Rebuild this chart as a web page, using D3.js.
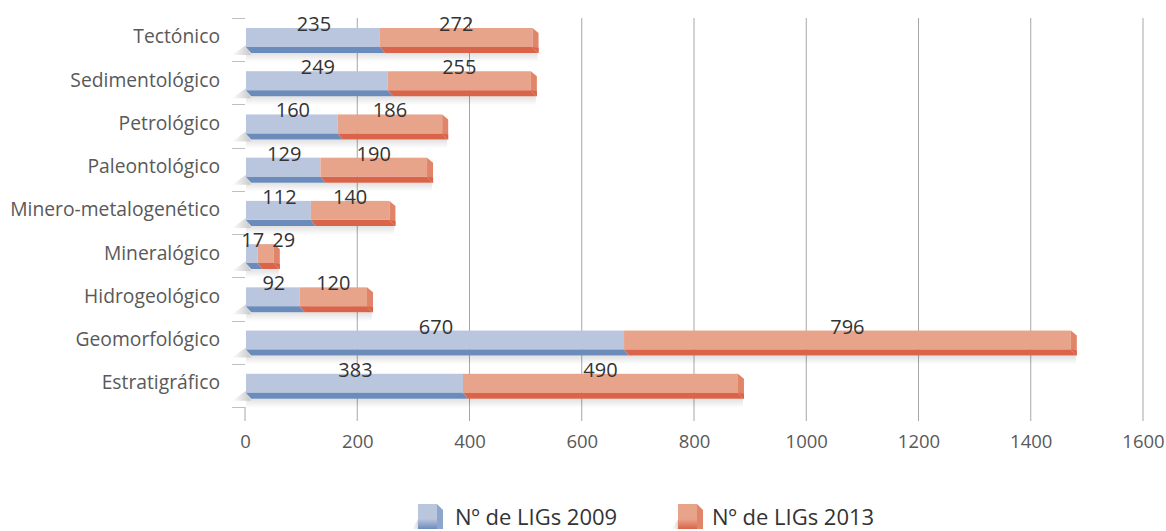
<!DOCTYPE html>
<html><head><meta charset="utf-8">
<script src="https://cdn.jsdelivr.net/npm/d3@7"></script>
<style>body{margin:0;background:#fff}svg{display:block}</style>
</head><body>
<script>
const categories = ["Tectónico","Sedimentológico","Petrológico","Paleontológico","Minero-metalogenético","Mineralógico","Hidrogeológico","Geomorfológico","Estratigráfico"];
const values2009 = [235,249,160,129,112,17,92,670,383];
const values2013 = [272,255,186,190,140,29,120,796,490];
const seriesNames = ["Nº de LIGs 2009","Nº de LIGs 2013"];
const xTicks = [0,200,400,600,800,1000,1200,1400,1600];

const W=1166,H=531;
const FONT="'Open Sans', sans-serif";
const svg=d3.select("body").append("svg").attr("width",W).attr("height",H);
const defs=svg.append("defs");
const sh=defs.append("linearGradient").attr("id","shadow").attr("x1",0).attr("y1",0).attr("x2",0).attr("y2",1);
sh.append("stop").attr("offset","0").attr("stop-color","#000").attr("stop-opacity",0.12);
sh.append("stop").attr("offset","1").attr("stop-color","#000").attr("stop-opacity",0);
const tri=defs.append("linearGradient").attr("id","tri").attr("x1",0).attr("y1",0).attr("x2",1).attr("y2",0);
tri.append("stop").attr("offset","0").attr("stop-color","#fff");
tri.append("stop").attr("offset","1").attr("stop-color","#c8c8c8");

const colors=[{face:"#bac5de",bottom:"#6b8cba",side:"#8ea6cc"},{face:"#e8a48b",bottom:"#d9644a",side:"#e0856a"}];

const xs=d3.scaleLinear().domain([0,1600]).range([245,1143]);
const ys=d3.scaleBand().domain(categories).range([18,407]).padding(0);

// gridlines
const g=svg.append("g");
xTicks.forEach(t=>{
  g.append("line").attr("x1",xs(t)).attr("x2",xs(t))
   .attr("y1",t===0?407:18).attr("y2",421)
   .attr("stroke","#a6a6a6").attr("stroke-width",1);
});
// left ticks at band boundaries
const bounds=categories.map(c=>ys(c)).concat([ys(categories[categories.length-1])+ys.bandwidth()]);
bounds.forEach(b=>{
  g.append("line").attr("x1",232).attr("x2",245).attr("y1",Math.round(b)+0.5).attr("y2",Math.round(b)+0.5)
   .attr("stroke","#bfbfbf").attr("stroke-width",1);
});

// x axis labels
const xAxis=d3.axisBottom(xs).tickValues(xTicks).tickSize(0).tickPadding(0).tickFormat(d3.format("d"));
const ax=svg.append("g").attr("transform","translate(0,435)").call(xAxis);
ax.select(".domain").remove();
ax.selectAll("text").attr("font-family",FONT).attr("font-size",18.5).attr("fill","#595959");

// y axis labels
const yAxis=d3.axisLeft(ys).tickSize(0).tickPadding(0);
const ay=svg.append("g").attr("transform","translate(220,-2)").call(yAxis);
ay.select(".domain").remove();
ay.selectAll("text").attr("font-family",FONT).attr("font-size",19.3).attr("fill","#595959").attr("dy","0.3em");

// bars
const bars=svg.append("g");
const labels=svg.append("g");
categories.forEach((c,i)=>{
  const vals=[values2009[i],values2013[i]];
  const top=ys(c)+10, fh=19, dh=6, dx=5;
  const total=vals[0]+vals[1];
  bars.append("rect").attr("x",xs(0)+1).attr("y",top+fh+dh).attr("width",xs(total)+3+dx-xs(0)-1).attr("height",9).attr("fill","url(#shadow)");
  bars.append("polygon").attr("points",[[232,top+fh+dh+2],[246,top+fh-2],[246+dx,top+fh+dh+2]].join(" ")).attr("fill","url(#tri)");
  let start=0, lastRight=-Infinity;
  vals.forEach((v,s)=>{
    const end=start+v;
    const x0=xs(start)+(start===0?1:3), x1=xs(end)+3;
    const col=colors[s];
    bars.append("rect").attr("x",x0).attr("y",top).attr("width",x1-x0).attr("height",fh).attr("fill",col.face);
    bars.append("polygon").attr("points",[[x0,top+fh],[x1,top+fh],[x1+dx,top+fh+dh],[x0+dx,top+fh+dh]].join(" ")).attr("fill",col.bottom);
    if(s===vals.length-1){
      bars.append("polygon").attr("points",[[x1,top],[x1+dx+1,top+5],[x1+dx+1,top+fh+dh],[x1,top+fh]].join(" ")).attr("fill",col.side);
      bars.append("polygon").attr("points",[[x1,top+fh],[x1+dx+1,top+fh+1],[x1+dx+1,top+fh+dh],[x1+dx,top+fh+dh]].join(" ")).attr("fill",col.bottom);
    }
    let cx=(xs(start)+xs(end))/2+3;
    const t=labels.append("text").attr("y",top+3).attr("text-anchor","middle")
      .attr("font-family",FONT).attr("font-size",20).attr("fill","#333").text(v);
    t.attr("x",cx);
    let w=t.node().getComputedTextLength();
    if(cx-w/2<lastRight+8){cx=lastRight+8+w/2;t.attr("x",cx);}
    lastRight=cx+w/2;
    start=end;
  });
});

// legend
const leg=svg.append("g");
const legX=[418,678], textX=[455,712];
seriesNames.forEach((n,s)=>{
  const x=legX[s], y=504, col=colors[s];
  leg.append("polygon").attr("points",[[x-6,529],[x,519],[x+4,529]].join(" ")).attr("fill","url(#tri)");
  const gid="lg"+s;
  const lg=defs.append("linearGradient").attr("id",gid).attr("x1",0).attr("y1",0).attr("x2",0).attr("y2",1);
  lg.append("stop").attr("offset","0.6").attr("stop-color",col.face);
  lg.append("stop").attr("offset","1").attr("stop-color",col.bottom);
  leg.append("rect").attr("x",x).attr("y",y).attr("width",19).attr("height",25).attr("fill","url(#"+gid+")");
  leg.append("polygon").attr("points",[[x+19,y],[x+25,y+6],[x+25,y+25],[x+19,y+25]].join(" ")).attr("fill",col.side);
  leg.append("text").attr("x",textX[s]).attr("y",525).attr("font-family",FONT).attr("font-size",22).attr("fill","#333").text(n);
});
</script>
</body></html>
